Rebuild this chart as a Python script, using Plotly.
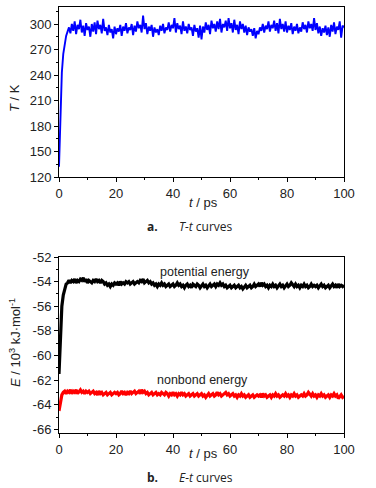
import plotly.graph_objects as go

# sample times (ps), 0.5 ps step
time_ps = [i * 0.5 for i in range(201)]

temperature_K = [
    132, 205, 243, 265, 279, 286, 291, 296, 289, 300,
    292, 303, 288, 299, 294, 305, 290, 298, 286, 301,
    293, 297, 285, 300, 291, 302, 288, 304, 294, 299,
    289, 306, 292, 296, 287, 299, 290, 294, 283, 297,
    288, 295, 291, 299, 286, 297, 292, 301, 289, 296,
    293, 300, 287, 298, 291, 303, 295, 299, 290, 310,
    294, 301, 288, 297, 292, 299, 285, 296, 290, 294,
    287, 298, 292, 300, 289, 296, 293, 302, 291, 299,
    295, 307, 290, 301, 294, 298, 288, 303, 292, 297,
    289, 300, 293, 296, 286, 299, 291, 295, 284, 298,
    282, 297, 290, 302, 293, 299, 288, 304, 295, 300,
    291, 303, 294, 306, 290, 300, 296, 304, 292, 307,
    295, 301, 290, 305, 293, 299, 288, 303, 294, 300,
    290, 298, 287, 296, 291, 294, 286, 295, 283, 292,
    288, 296, 292, 300, 290, 298, 294, 303, 291, 299,
    295, 304, 292, 301, 289, 306, 294, 300, 291, 303,
    290, 298, 293, 301, 288, 297, 292, 300, 289, 296,
    291, 302, 294, 299, 290, 303, 295, 300, 292, 307,
    293, 301, 289, 297, 286, 295, 290, 298, 287, 296,
    285, 299, 291, 302, 288, 297, 293, 303, 284, 298,
    296,
]

potential_E = [
    -61.5, -58.3, -56.0, -55.1, -54.5, -54.2, -54.1, -53.9, -54.1, -53.9,
    -54.0, -53.8, -54.1, -53.9, -54.0, -53.8, -53.9, -53.7, -54.0, -53.8,
    -54.1, -53.9, -54.0, -54.1, -53.9, -54.0, -53.8, -54.0, -53.9, -54.1,
    -53.9, -54.0, -54.2, -54.1, -54.3, -54.2, -54.4, -54.2, -54.3, -54.1,
    -54.2, -54.1, -54.3, -54.0, -54.2, -54.1, -54.2, -54.0, -54.1, -54.0,
    -54.2, -54.1, -54.0, -54.2, -54.1, -54.0, -54.1, -53.9, -54.0, -53.8,
    -54.1, -54.0, -53.9, -54.1, -54.0, -54.2, -54.1, -54.3, -54.2, -54.4,
    -54.2, -54.3, -54.1, -54.3, -54.2, -54.4, -54.3, -54.2, -54.4, -54.3,
    -54.2, -54.4, -54.3, -54.1, -54.3, -54.2, -54.4, -54.3, -54.5, -54.3,
    -54.2, -54.4, -54.3, -54.5, -54.2, -54.3, -54.4, -54.2, -54.3, -54.5,
    -54.3, -54.2, -54.4, -54.3, -54.5, -54.3, -54.2, -54.4, -54.3, -54.2,
    -54.4, -54.2, -54.3, -54.1, -54.3, -54.2, -54.4, -54.3, -54.5, -54.4,
    -54.3, -54.5, -54.4, -54.3, -54.5, -54.4, -54.3, -54.5, -54.4, -54.6,
    -54.4, -54.3, -54.5, -54.4, -54.3, -54.5, -54.4, -54.2, -54.4, -54.3,
    -54.2, -54.4, -54.1, -54.3, -54.2, -54.4, -54.3, -54.5, -54.3, -54.4,
    -54.2, -54.4, -54.3, -54.5, -54.3, -54.2, -54.4, -54.3, -54.5, -54.3,
    -54.2, -54.4, -54.3, -54.1, -54.3, -54.4, -54.2, -54.4, -54.3, -54.5,
    -54.3, -54.4, -54.2, -54.4, -54.3, -54.5, -54.4, -54.2, -54.4, -54.3,
    -54.4, -54.3, -54.5, -54.3, -54.2, -54.4, -54.3, -54.5, -54.4, -54.3,
    -54.5, -54.3, -54.2, -54.4, -54.3, -54.5, -54.2, -54.4, -54.3, -54.4,
    -54.3,
]

nonbond_E = [
    -64.5, -63.7, -63.2, -63.0, -62.9, -63.1, -62.9, -63.0, -62.8, -63.1,
    -62.9, -63.0, -62.8, -63.1, -62.9, -62.8, -63.0, -62.9, -63.1, -62.9,
    -63.0, -62.9, -63.1, -63.0, -62.9, -63.1, -63.0, -63.2, -62.9, -63.1,
    -63.0, -63.2, -63.1, -63.0, -63.2, -63.1, -63.0, -63.2, -63.1, -63.0,
    -63.1, -63.0, -63.2, -63.1, -62.9, -63.1, -63.0, -63.2, -63.0, -63.1,
    -62.9, -63.1, -63.0, -62.9, -63.1, -63.0, -62.9, -63.1, -62.8, -63.0,
    -62.9, -63.1, -63.0, -63.2, -63.1, -63.0, -63.2, -63.1, -63.0, -63.2,
    -63.1, -63.2, -63.0, -63.1, -63.2, -63.0, -63.1, -63.3, -63.1, -63.2,
    -63.0, -63.2, -63.1, -63.3, -63.1, -63.2, -63.0, -63.2, -63.1, -63.3,
    -63.2, -63.1, -63.3, -63.2, -63.1, -63.3, -63.2, -63.1, -63.3, -63.2,
    -63.1, -63.3, -63.2, -63.4, -63.2, -63.1, -63.3, -63.2, -63.1, -63.3,
    -63.2, -63.0, -63.2, -63.1, -63.3, -63.2, -63.1, -63.0, -63.2, -63.1,
    -63.3, -63.2, -63.1, -63.3, -63.2, -63.4, -63.2, -63.3, -63.1, -63.3,
    -63.2, -63.4, -63.3, -63.2, -63.4, -63.3, -63.2, -63.4, -63.3, -63.2,
    -63.3, -63.2, -63.4, -63.1, -63.3, -63.2, -63.4, -63.3, -63.2, -63.4,
    -63.2, -63.3, -63.1, -63.3, -63.2, -63.4, -63.3, -63.2, -63.3, -63.1,
    -63.3, -63.2, -63.4, -63.2, -63.3, -63.1, -63.3, -63.2, -63.4, -63.3,
    -63.2, -63.3, -63.1, -63.3, -63.2, -63.0, -63.2, -63.3, -63.1, -63.3,
    -63.2, -63.4, -63.2, -63.3, -63.1, -63.3, -63.2, -63.4, -63.3, -63.2,
    -63.4, -63.2, -63.3, -63.1, -63.3, -63.2, -63.5, -63.3, -63.2, -63.4,
    -63.3,
]

x_ticks = [0, 20, 40, 60, 80, 100]
T_ticks = [120, 150, 180, 210, 240, 270, 300]
E_ticks = [-66, -64, -62, -60, -58, -56, -54, -52]
E_tick_text = ["-66", "-64", "-62", "-60", "-58", "-56", "-54", "-52"]

FONT = "Liberation Sans Narrow, Arial Narrow, Liberation Sans"
W, H = 376, 488

fig = go.Figure()
fig.add_trace(go.Scatter(x=time_ps, y=temperature_K, mode="lines",
                         line=dict(color="#0000ff", width=1.9),
                         xaxis="x", yaxis="y", showlegend=False))
fig.add_trace(go.Scatter(x=time_ps, y=potential_E, mode="lines",
                         line=dict(color="#000000", width=3.2),
                         xaxis="x2", yaxis="y2", showlegend=False))
fig.add_trace(go.Scatter(x=time_ps, y=nonbond_E, mode="lines",
                         line=dict(color="#ff0000", width=3.2),
                         xaxis="x2", yaxis="y2", showlegend=False))

xd = [59 / W, 344 / W]
top_dom = [1 - 177 / H, 1 - 7 / H]
bot_dom = [1 - 433 / H, 1 - 257 / H]

base = dict(showline=True, linecolor="black", linewidth=1, mirror=True,
            ticks="outside", ticklen=4, tickcolor="black",
            showgrid=False, zeroline=False, automargin=False,
            tickfont=dict(family=FONT, size=13, color="#222"))

def minor(dtick, tick0=0):
    return dict(ticks="outside", ticklen=2, tickcolor="black", dtick=dtick, tick0=tick0)

fig.update_layout(
    width=W, height=H, autosize=False, showlegend=False,
    margin=dict(l=0, r=0, t=0, b=0, pad=0, autoexpand=False),
    paper_bgcolor="white", plot_bgcolor="white",
    xaxis=dict(domain=xd, range=[0, 100], tickvals=x_ticks, anchor="y",
               minor=minor(10), **base),
    yaxis=dict(domain=top_dom, range=[120, 320], tickvals=T_ticks, anchor="x",
               minor=minor(15, 120), **base),
    xaxis2=dict(domain=xd, range=[0, 100], tickvals=x_ticks, anchor="y2",
                minor=minor(10), **base),
    yaxis2=dict(domain=bot_dom, range=[-66.3, -52], tickvals=E_ticks,
                ticktext=E_tick_text, anchor="x2",
                minor=minor(1, -66), **base),
)

def ann(text, x, y, size=13, angle=0, family=FONT, color="#222"):
    fig.add_annotation(text=text, x=x / W, y=1 - y / H, xref="paper", yref="paper",
                       showarrow=False, textangle=angle,
                       font=dict(family=family, size=size, color=color),
                       xanchor="center", yanchor="middle")

CAP = "Open Sans"
ann("<i>T</i> / K", 15, 98, angle=-90)
ann("<i>t</i> / ps", 203, 203)
ann("<b>a.</b>", 152, 226, size=12, family=CAP)
ann("<i>T-t</i> curves", 206, 226, size=12, family=CAP)

ann("<i>E</i> / 10<sup>3</sup> kJ·mol<sup>-1</sup>", 15, 343, angle=-90)
ann("<i>t</i> / ps", 203, 453)
ann("<b>b.</b>", 152, 477, size=12, family=CAP)
ann("<i>E-t</i> curves", 206, 477, size=12, family=CAP)

ann("potential energy", 205, 272, size=12.5)
ann("nonbond energy", 202, 380, size=12.5)

fig.write_html(
    "out.html",
    config={"displayModeBar": False, "responsive": False},
    post_script="document.documentElement.style.margin='0';"
                "document.body.style.margin='0';"
                "document.body.style.overflow='hidden';"
                "document.documentElement.style.overflow='hidden';",
)
